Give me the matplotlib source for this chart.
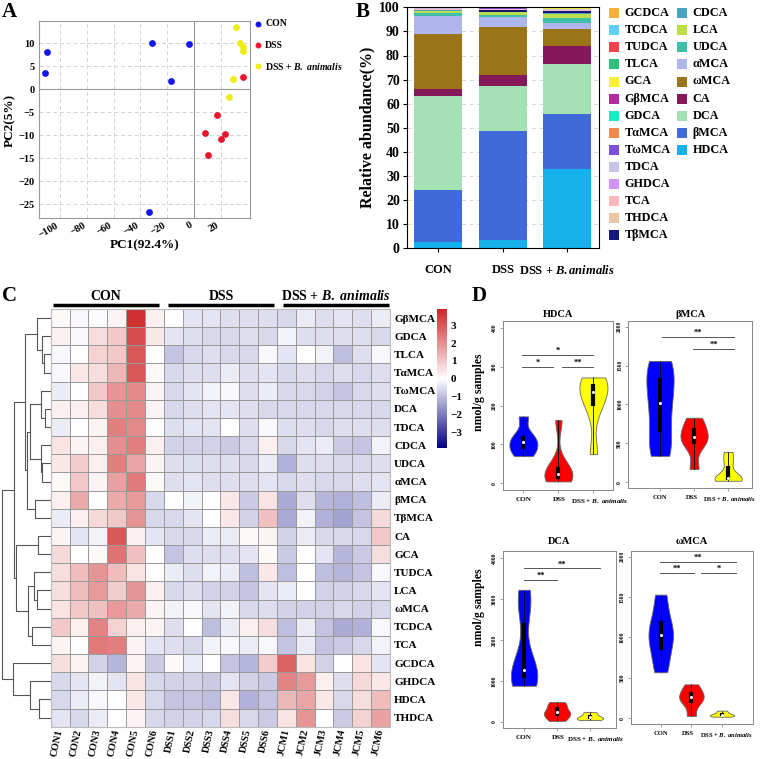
import matplotlib
matplotlib.use("Agg")
import matplotlib.pyplot as plt
import numpy as np
from matplotlib.colors import LinearSegmentedColormap
from matplotlib.patches import Rectangle

plt.rcParams["font.family"] = ["Liberation Serif", "DejaVu Serif"]
plt.rcParams["font.weight"] = "bold"
plt.rcParams["axes.labelweight"] = "bold"
plt.rcParams["mathtext.fontset"] = "custom"
plt.rcParams["mathtext.rm"] = "Liberation Serif:bold"
plt.rcParams["mathtext.it"] = "Liberation Serif:italic:bold"
plt.rcParams["mathtext.bf"] = "Liberation Serif:bold"

# ---------------- data ----------------
# A: PCA scores
pca_con_x = [-110.3, -111.6, -31.5, -3.7, -17.2, -33.5]
pca_con_y = [8.0, 3.5, 10.1, 9.85, 1.7, -26.7]
pca_dss_x = [17.2, 8.0, 23.2, 20.0, 10.3, 36.5]
pca_dss_y = [-5.7, -9.5, -9.8, -10.8, -14.3, 2.6]
pca_jcm_x = [31.7, 34.5, 36.9, 36.9, 29.2, 26.4]
pca_jcm_y = [13.5, 10.1, 9.2, 8.3, 2.2, -1.8]

# B: relative abundance, stacked bottom -> top
stack_names = ["HDCA", "βMCA", "DCA", "CA", "ωMCA", "αMCA", "UDCA", "LCA", "CDCA",
               "TβMCA", "THDCA", "TCA", "GHDCA", "TDCA", "TωMCA", "TαMCA", "GDCA",
               "GβMCA", "GCA", "TLCA", "TUDCA", "TCDCA", "GCDCA"]
abund_con = [2.5, 21.8, 39.1, 2.9, 22.8, 7.4, 1.1, 1.0, 0.3, 0.1, 0.05, 0.3, 0.1,
             0.15, 0.05, 0.05, 0.05, 0.05, 0.05, 0.03, 0.02, 0.05, 0.05]
abund_dss = [3.5, 45.0, 19.0, 4.6, 19.9, 3.8, 1.1, 1.0, 0.3, 0.6, 0.05, 0.35, 0.1,
             0.2, 0.05, 0.05, 0.05, 0.05, 0.1, 0.05, 0.05, 0.05, 0.05]
abund_jcm = [32.8, 22.9, 20.8, 7.6, 6.9, 2.4, 2.1, 1.7, 0.3, 0.9, 0.05, 0.5, 0.1,
             0.2, 0.05, 0.05, 0.05, 0.05, 0.3, 0.05, 0.05, 0.1, 0.05]
bar_groups = ["CON", "DSS", "DSS + $\\mathit{B.animalis}$"]
legend_col1 = ["GCDCA", "TCDCA", "TUDCA", "TLCA", "GCA", "GβMCA", "GDCA", "TαMCA",
               "TωMCA", "TDCA", "GHDCA", "TCA", "THDCA", "TβMCA"]
legend_col2 = ["CDCA", "LCA", "UDCA", "αMCA", "ωMCA", "CA", "DCA", "βMCA", "HDCA"]

# C: heatmap (row z-scores)
heat_rows = ["GβMCA", "GDCA", "TLCA", "TαMCA", "TωMCA", "DCA", "TDCA", "CDCA", "UDCA",
             "αMCA", "βMCA", "TβMCA", "CA", "GCA", "TUDCA", "LCA", "ωMCA", "TCDCA",
             "TCA", "GCDCA", "GHDCA", "HDCA", "THDCA"]
heat_cols = ["CON1", "CON2", "CON3", "CON4", "CON5", "CON6",
             "DSS1", "DSS2", "DSS3", "DSS4", "DSS5", "DSS6",
             "JCM1", "JCM2", "JCM3", "JCM4", "JCM5", "JCM6"]
heat_values = [
    [0.1, -0.1, -0.05, 0.2, 3.7, 0.3, 0.0, -0.4, -0.4, -0.5, -0.5, -0.5, -0.6, -0.3, -0.5, -0.4, -0.5, -0.3],
    [0.3, -0.1, 0.6, 1.0, 3.2, 0.4, -0.4, -0.5, -0.6, -0.6, -0.5, -0.6, -0.2, -0.5, -0.5, -0.5, -0.5, -0.6],
    [-0.1, 0.0, 0.8, 1.0, 3.0, 0.0, -0.9, -0.6, -0.5, -0.6, -0.6, -0.1, -0.4, 0.0, -0.2, -1.0, -0.5, -0.1],
    [-0.1, 0.4, 0.6, 1.3, 3.0, 0.1, -0.6, -0.5, -0.5, -0.3, -0.5, -0.4, -0.6, -0.5, -0.6, -0.5, -0.6, -0.5],
    [-0.3, 0.0, 1.0, 1.9, 2.1, 0.2, -0.6, -0.4, -0.2, -0.1, -0.5, -0.3, -0.6, -0.6, -0.7, -0.9, -0.6, -0.5],
    [0.3, 0.3, 0.6, 2.0, 2.1, 0.2, -0.6, -0.5, -0.4, -0.4, -0.5, -0.6, -0.6, -0.6, -0.6, -0.6, -0.6, -0.6],
    [-0.3, 0.0, 0.2, 2.3, 2.1, 0.0, -0.5, -0.4, -0.4, 0.0, -0.5, -0.1, -0.5, -0.5, -0.6, -0.5, -0.5, -0.5],
    [0.5, 0.2, 0.3, 2.0, 2.3, 0.3, -0.7, -0.7, -0.7, -0.8, -0.6, 0.3, -0.6, -0.4, -0.3, -0.8, -0.9, -0.2],
    [0.4, 0.9, 0.3, 2.3, 1.6, 0.2, -0.5, -0.5, -0.5, -0.5, -0.6, -0.3, -1.2, -0.5, -0.5, -0.6, -0.6, -0.5],
    [0.1, 1.0, 0.2, 1.7, 2.4, 0.1, -0.5, -0.4, -0.5, -0.5, -0.5, -0.4, -0.6, -0.5, -0.6, -0.6, -0.5, -0.4],
    [0.3, 1.5, 0.0, 1.5, 1.8, -0.6, 0.0, -0.2, 0.0, 0.4, -0.8, 0.5, -1.3, -0.5, -1.1, -1.2, -1.0, -0.3],
    [-0.3, 0.3, 0.7, 1.0, 1.9, -0.6, -0.6, -0.4, 0.0, 0.4, -0.7, 1.1, -1.3, -0.2, -1.2, -1.4, -0.9, 0.7],
    [0.2, -0.4, -0.2, 3.0, 0.3, -0.4, -0.6, -0.6, -0.3, -0.3, 0.1, 0.2, -0.7, -0.3, -0.6, -0.6, -0.6, 1.0],
    [0.7, 0.0, 0.1, 2.5, 1.1, 0.0, -0.9, -0.5, -0.5, -0.5, -0.4, 0.1, -0.8, 0.0, -0.4, -1.1, -0.8, 0.6],
    [0.6, 1.2, 1.9, 1.2, 0.5, 0.0, -0.3, -0.5, -0.2, -0.3, -1.0, 0.4, -1.0, 0.0, -1.0, -1.1, -0.9, -0.1],
    [0.6, 1.2, 1.8, 0.9, 1.9, 0.3, -0.6, -0.5, -0.7, -0.7, -0.9, -0.4, -0.3, 0.0, -0.7, -0.7, -0.6, -0.4],
    [0.5, 1.0, 1.1, 1.8, 1.5, 0.2, -0.2, -0.1, -0.4, -0.2, -0.6, -0.5, -0.7, -0.7, -0.7, -0.6, -0.7, -0.6],
    [1.0, 0.3, 2.2, 0.8, 0.3, 0.2, -0.5, 0.0, -1.0, -0.3, 0.3, 0.6, -1.0, -0.3, -0.9, -1.3, -1.2, -0.1],
    [0.2, 0.0, 2.4, 2.3, 0.2, -0.4, -0.5, -0.6, -0.2, -0.1, -0.3, -0.1, -0.9, -0.3, -0.9, -0.8, -0.6, -0.2],
    [0.6, 0.2, -0.7, -1.1, 0.2, -0.8, 0.1, -0.3, 0.0, -0.9, -1.1, 0.9, 2.8, 0.5, -0.7, 0.0, 0.5, -0.4],
    [-0.6, -0.4, -0.2, -0.4, 0.5, -0.6, -0.7, -0.7, -0.8, -0.4, -0.7, -0.8, 2.2, 1.8, 0.3, -0.5, 0.7, 0.4],
    [-0.6, -0.3, -0.1, 0.0, 0.4, -0.6, -0.9, -0.9, -1.0, 0.4, -1.2, -0.9, 1.3, 1.6, 0.4, -0.6, 0.6, 1.2],
    [-0.4, -0.6, -0.3, 0.0, 0.2, -0.6, -0.7, -0.7, -0.6, 0.6, -0.6, -0.8, 0.5, 1.9, 0.0, -0.8, 0.8, 1.7],
]
# row dendrogram: (left, right, merge height), leaves are row indices
tree_a = (0, (1, (2, 3, 6.7), 8.3), 14.0)
tree_b = ((4, (5, 6, 6.0), 9.3), (7, (8, 9, 8.3), 10.0), 20.7)
tree_abc = (tree_a, (tree_b, (10, 11, 15.7), 23.3), 25.0)
tree_d = ((12, 13, 12.3), ((14, (15, 16, 13.3), 16.7), (17, 18, 18.3), 22.3), 34.0)
tree_e = (19, (20, (21, 22, 11.7), 20.0), 37.3)
row_tree = ((tree_abc, tree_d, 36.0), tree_e, 48.3)

# D: concentrations (nmol/g), six samples per group
hdca_con = [70, 85, 98, 112, 125, 172]
hdca_dss = [5, 10, 20, 30, 45, 163]
hdca_jcm = [75, 190, 225, 245, 260, 272]
bmca_con = [340, 560, 900, 1150, 1400, 1560]
bmca_dss = [170, 480, 550, 610, 720, 830]
bmca_jcm = [20, 30, 50, 70, 260, 390]
dca_con = [880, 1050, 1150, 1400, 2750, 3230]
dca_dss = [20, 120, 200, 260, 380, 480]
dca_jcm = [40, 60, 100, 120, 180, 240]
wmca_con = [570, 800, 980, 1080, 1250, 1530]
wmca_dss = [30, 180, 240, 280, 340, 420]
wmca_jcm = [20, 30, 40, 50, 70, 95]
violin_groups = ["CON", "DSS", "DSS + $\\mathit{B.\\ animalis}$"]
# significance: (from, to, level, stars)
hdca_sig = [(0.95, 1.86, 300, "*"), (2.1, 3.0, 300, "**"), (0.95, 3.0, 330, "*")]
bmca_sig = [(1.05, 3.16, 1864, "**"), (1.98, 3.16, 1717, "**")]
dca_sig = [(1.0, 2.0, 3469, "**"), (1.0, 3.3, 3755, "**")]
wmca_sig = [(0.98, 3.44, 1938, "**"), (0.98, 2.07, 1798, "**"), (2.32, 3.44, 1798, "*")]

# ---------------- styles ----------------
W, H = 760, 759
stack_colors = {
    "GCDCA": "#F4B13C", "TCDCA": "#5BD3F5", "TUDCA": "#F2424B", "TLCA": "#2DC07A",
    "GCA": "#F8F03C", "GβMCA": "#B5299A", "GDCA": "#1DE9C4", "TαMCA": "#F4874B",
    "TωMCA": "#7E4FD8", "TDCA": "#C5C3E6", "GHDCA": "#D292F5", "TCA": "#FDB9BC",
    "THDCA": "#E8C6A6", "TβMCA": "#16187A", "CDCA": "#4BA3C3", "LCA": "#BDDD4A",
    "UDCA": "#3DBFA8", "αMCA": "#AEB6EC", "ωMCA": "#9C7418", "CA": "#84185A",
    "DCA": "#A4E2B5", "βMCA": "#3F6AD8", "HDCA": "#14B1EB",
}
VIOLIN_COLORS = ["#0000FF", "#FF0000", "#FFFF00"]


def px_axes(fig, x0, y0, x1, y1):
    return fig.add_axes([x0 / W, 1 - y1 / H, (x1 - x0) / W, (y1 - y0) / H])


def draw_tree(ax, node):
    if isinstance(node, int):
        return node + 0.5, 0.0
    left, right, h = node
    y1, h1 = draw_tree(ax, left)
    y2, h2 = draw_tree(ax, right)
    ax.plot([h1, h, h, h2], [y1, y1, y2, y2], color="#555555", lw=0.8)
    return (y1 + y2) / 2, h


def draw_violins(ax, groups, sigs, ylim, xlim, yticks, title, title_pad,
                 label_dx, label_size):
    parts = ax.violinplot(groups, positions=[1, 2, 3], widths=0.8,
                          showextrema=False, bw_method=0.5)
    for body, color in zip(parts["bodies"], VIOLIN_COLORS):
        body.set_facecolor(color)
        body.set_edgecolor("#666666")
        body.set_linewidth(0.6)
        body.set_alpha(1)
    for pos, vals in zip([1, 2, 3], groups):
        q1, med, q3 = np.percentile(vals, [25, 50, 75])
        ax.vlines(pos, min(vals), max(vals), color="black", lw=0.6, zorder=3)
        ax.vlines(pos, q1, q3, color="black", lw=3, zorder=3)
        ax.scatter([pos], [med], s=5, color="white", lw=0, zorder=4)
    for x1, x2, y, stars in sigs:
        ax.plot([x1, x2], [y, y], color="#555555", lw=0.7)
        ax.text((x1 + x2) / 2, y, stars, ha="center", va="bottom", fontsize=6)
    ax.set_xlim(*xlim)
    ax.set_ylim(*ylim)
    ax.set_yticks(yticks)
    ax.set_yticklabels([str(t) for t in yticks], rotation=90, va="center", fontsize=4)
    ax.set_xticks([1, 2, 3])
    ax.set_xticklabels(["", "", ""])
    # group names under the ticks, nudged sideways (px) so they don't collide
    for pos, lab, dx in zip([1, 2, 3], violin_groups, label_dx):
        ax.annotate(lab, xy=(pos, 0), xycoords=ax.get_xaxis_transform(),
                    xytext=(dx * 0.72, -5), textcoords="offset points",
                    ha="center", va="top", fontsize=label_size, annotation_clip=False)
    ax.tick_params(length=2.5, width=0.5, color="#777777", pad=2)
    for sp in ax.spines.values():
        sp.set_color("#888888")
        sp.set_linewidth(0.7)
    ax.set_title(title, fontsize=7.5, fontweight="bold", pad=title_pad)


fig = plt.figure(figsize=(W / 100, H / 100), dpi=100)

# ---------------- A ----------------
axA = px_axes(fig, 39, 21, 250, 218)
axA.set_axisbelow(True)
axA.grid(True, linestyle=(0, (4, 3)), color="#d3d3d3", lw=0.7)
axA.axhline(0, color="#999999", lw=0.8, zorder=1)
axA.axvline(0, color="#999999", lw=0.8, zorder=1)
axA.scatter(pca_con_x, pca_con_y, s=24, color="#1515EE", lw=0, zorder=3)
axA.scatter(pca_dss_x, pca_dss_y, s=24, color="#E81530", lw=0, zorder=3)
axA.scatter(pca_jcm_x, pca_jcm_y, s=24, color="#EEEE10", lw=0, zorder=3)
axA.set_xlim(-116, 42)
axA.set_ylim(-28, 14.8)
axA.set_xticks(range(-100, 21, 20))
axA.set_yticks(range(-25, 11, 5))
axA.tick_params(axis="y", length=0, labelsize=7.5, pad=3)
axA.tick_params(axis="x", length=0, labelsize=7.5, pad=2, labelrotation=30)
for lab in axA.get_xticklabels():
    lab.set_ha("right")
for sp in axA.spines.values():
    sp.set_color("#999999")

# ---------------- B ----------------
axB = px_axes(fig, 406.7, 7.3, 599, 248.3)
axB.set_axisbelow(True)
axB.grid(True, axis="y", linestyle=(0, (4, 4)), color="#d8d8d8", lw=0.7)
bottoms = np.zeros(3)
for i, name in enumerate(stack_names):
    vals = np.array([abund_con[i], abund_dss[i], abund_jcm[i]])
    axB.bar([0, 1, 2], vals, width=0.745, bottom=bottoms, color=stack_colors[name], lw=0)
    bottoms += vals
axB.set_xlim(-0.49, 2.49)
axB.set_ylim(0, 100)
axB.set_yticks(range(0, 101, 10))
axB.set_xticks([0, 1, 2])
axB.set_xticklabels(bar_groups, fontsize=9)
axB.tick_params(axis="y", labelsize=10, length=3, pad=2)
axB.tick_params(axis="x", length=3, pad=8)
axB.set_ylabel("Relative abundance(%)", fontsize=11.5, labelpad=3)

# ---------------- C ----------------
vals = np.array(heat_values)
heat_cmap = LinearSegmentedColormap.from_list("nwr", ["#000080", "#FFFFFF", "#CD2626"])
axC = px_axes(fig, 50.7, 309, 390, 726.7)
mesh = axC.pcolormesh(np.arange(len(heat_cols) + 1), np.arange(len(heat_rows) + 1), vals,
                      cmap=heat_cmap, vmin=-3.9, vmax=3.9, edgecolors="#9a9a9a", linewidth=0.6)
axC.set_xlim(0, len(heat_cols))
axC.set_ylim(len(heat_rows), 0)
axC.yaxis.tick_right()
axC.set_yticks(np.arange(len(heat_rows)) + 0.5)
axC.set_yticklabels(heat_rows, fontsize=8)
axC.set_xticks(np.arange(len(heat_cols)) + 0.5)
axC.set_xticklabels(heat_cols, fontsize=7.3, rotation=78, ha="right", va="center",
                    rotation_mode="anchor")
axC.tick_params(axis="y", length=0, pad=3)
axC.tick_params(axis="x", length=0, pad=2)
for sp in axC.spines.values():
    sp.set_color("#bbbbbb")

axD = px_axes(fig, 0, 309, 50.7, 726.7)
draw_tree(axD, row_tree)
axD.set_xlim(50.0, 0)
axD.set_ylim(len(heat_rows), 0)
axD.axis("off")

cax = px_axes(fig, 437.3, 309.3, 446.7, 448.3)
cb = fig.colorbar(mesh, cax=cax, ticks=[-3, -2, -1, 0, 1, 2, 3])
cb.ax.set_yticklabels(["\u22123", "\u22122", "\u22121", "0", "1", "2", "3"], fontsize=8)
cb.ax.tick_params(length=0, pad=3)
cb.outline.set_visible(False)

# ---------------- D ----------------
ax1 = px_axes(fig, 502.7, 321, 612.7, 490)
draw_violins(ax1, [hdca_con, hdca_dss, hdca_jcm], hdca_sig, (-17, 417), (0.41, 3.55),
             [0, 100, 200, 300, 400], "HDCA", 3, [0, 1, 6], 5.1)
ax2 = px_axes(fig, 628.3, 321, 751.7, 488.3)
draw_violins(ax2, [bmca_con, bmca_dss, bmca_jcm], bmca_sig, (-77, 2073), (0.07, 3.69),
             [0, 500, 1000, 1500, 2000], "βMCA", 3, [0, -2, 1], 4.7)
ax3 = px_axes(fig, 502.7, 551, 616, 728.3)
draw_violins(ax3, [dca_con, dca_dss, dca_jcm], dca_sig, (-162, 4179), (0.35, 3.79),
             [0, 1000, 2000, 3000, 4000], "DCA", 5, [0, 1, 6], 5.1)
ax4 = px_axes(fig, 631, 551, 752.7, 724.3)
draw_violins(ax4, [wmca_con, wmca_dss, wmca_jcm], wmca_sig, (-74, 2070), (0.03, 4.0),
             [0, 500, 1000, 1500, 2000], "ωMCA", 5, [0, -3, 4], 4.7)

# ---------------- overlay: labels, legends ----------------
ov = fig.add_axes([0, 0, 1, 1])
ov.set_xlim(0, W)
ov.set_ylim(H, 0)
ov.axis("off")

for letter, x, y in [("A", 2, 12), ("B", 356, 12), ("C", 2, 296), ("D", 472, 296)]:
    ov.text(x, y, letter, fontsize=15, fontweight="bold", ha="left", va="center")

ov.text(10, 120, "PC2(5%)", rotation=90, fontsize=9.5, ha="center", va="center")
ov.text(145, 245, "PC1(92.4%)", fontsize=9.5, ha="center", va="center")

legA = [("CON", "#1515EE"), ("DSS", "#E81530"), ("DSS + $\\mathit{B.\\ animalis}$", "#EEEE10")]
for i, (lab, col) in enumerate(legA):
    y = 24 + 21 * i
    ov.scatter([258], [y], s=18, color=col, lw=0)
    ov.text(265, y, lab, fontsize=7, ha="left", va="center")

for col_i, names in enumerate([legend_col1, legend_col2]):
    sx = 609.3 if col_i == 0 else 677.3
    for i, name in enumerate(names):
        y = 13.3 + 17.05 * i
        ov.add_patch(Rectangle((sx, y - 5), 10, 10, color=stack_colors[name], lw=0))
        ov.text(sx + 15, y, name, fontsize=8.7, ha="left", va="center")

for x0, x1, lab in [(53, 159, "CON"), (168, 274, "DSS"),
                    (283, 389, "DSS + $\\mathit{B.\\ animalis}$")]:
    ov.plot([x0, x1], [305, 305], color="black", lw=2.5, solid_capstyle="butt")
    ov.text((x0 + x1) / 2, 296, lab, fontsize=10, ha="center", va="center")

ov.text(479, 392, "nmol/g samples", rotation=90, fontsize=8.5, ha="center", va="center")
ov.text(479, 607, "nmol/g samples", rotation=90, fontsize=8.5, ha="center", va="center")

fig.savefig("out.png", dpi=100)
